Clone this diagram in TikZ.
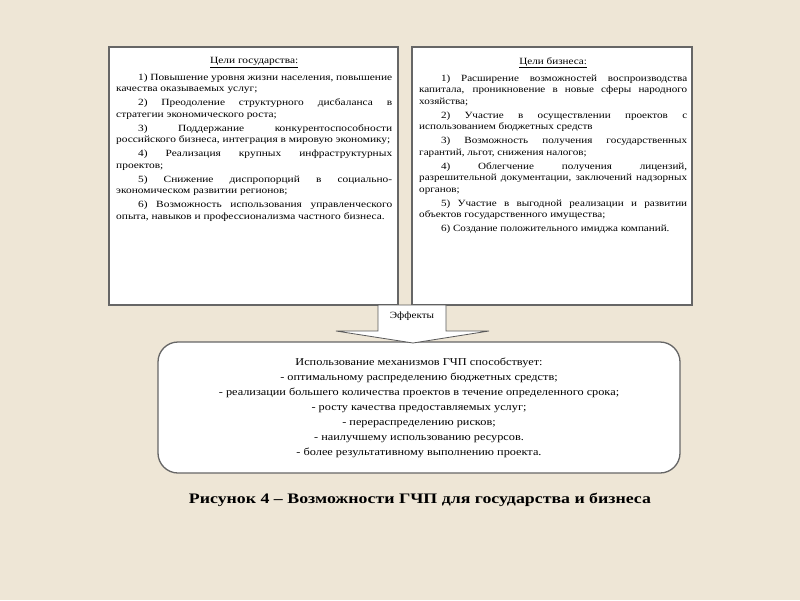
\documentclass[tikz,border=0pt]{standalone}
\usepackage{fontspec}
\setmainfont{Liberation Serif}
\newfontfamily\boxfont[FakeStretch=1.2]{Liberation Serif}
\newfontfamily\boxfontb[FakeStretch=1.17]{Liberation Serif}
\newfontfamily\efffont[FakeStretch=1.17]{Liberation Serif}
\newfontfamily\capfont[FakeStretch=1.23]{Liberation Serif}
\begin{document}
\begin{tikzpicture}[x=1pt,y=-1pt,
  goalbox/.style={draw=gray!80!black, line width=1.6pt, fill=white},
  goaltext/.style={anchor=north west, inner sep=0pt, text width=#1, align=justify,
    font=\boxfont\fontsize{9.5}{11.5}\selectfont},
  efftext/.style={align=center, font=\efffont\fontsize{10.5}{15}\selectfont},
  arrowshape/.style={draw=gray!70!black, line width=0.8pt, fill=white}]
\definecolor{bg}{RGB}{238,230,214}
\fill[bg] (0,0) rectangle (800,600);
\useasboundingbox (0,0) rectangle (800,600);
% goal boxes
\draw[goalbox] (109,47) rectangle (398,305);
\draw[goalbox] (412,47) rectangle (692,305);
\node[goaltext=276pt] (gov) at (116,57) {%
  \setlength{\parskip}{2.5pt}%
  \centerline{\underline{Цели государства:}}\par\vspace{3pt}
  \hspace*{2.3em}1) Повышение уровня жизни населения, повышение качества оказываемых услуг;\par
  \hspace*{2.3em}2) Преодоление структурного дисбаланса в стратегии экономического роста;\par
  \hspace*{2.3em}3) Поддержание конкурентоспособности российского бизнеса, интеграция в мировую экономику;\par
  \hspace*{2.3em}4) Реализация крупных инфраструктурных проектов;\par
  \hspace*{2.3em}5) Снижение диспропорций в социально-экономическом развитии регионов;\par
  \hspace*{2.3em}6) Возможность использования управленческого опыта, навыков и профессионализма частного бизнеса.};
\node[goaltext=268pt, font=\boxfontb\fontsize{9.5}{11.5}\selectfont] (bus) at (419,57) {%
  \setlength{\parskip}{2.5pt}%
  \centerline{\underline{Цели бизнеса:}}\par\vspace{3pt}
  \hspace*{2.3em}1) Расширение возможностей воспроизводства капитала, проникновение в новые сферы народного хозяйства;\par
  \hspace*{2.3em}2) Участие в осуществлении проектов с использованием бюджетных средств\par
  \hspace*{2.3em}3) Возможность получения государственных гарантий, льгот, снижения налогов;\par
  \hspace*{2.3em}4) Облегчение получения лицензий, разрешительной документации, заключений надзорных органов;\par
  \hspace*{2.3em}5) Участие в выгодной реализации и развитии объектов государственного имущества;\par
  \hspace*{2.3em}6) Создание положительного имиджа компаний.};
% effects box
\draw[goalbox, line width=1.3pt, rounded corners=20pt] (158,342) rectangle (680,473);
\node[efftext] (eff) at (419,407.5) {Использование механизмов ГЧП способствует:\\
- оптимальному распределению бюджетных средств;\\
- реализации большего количества проектов в течение определенного срока;\\
- росту качества предоставляемых услуг;\\
- перераспределению рисков;\\
- наилучшему использованию ресурсов.\\
- более результативному выполнению проекта.};
% arrow
\draw[arrowshape] (378,305) -- (446,305) -- (446,331) -- (489,331) -- (413,343) -- (336,331) -- (378,331) -- cycle;
\node[font=\efffont\fontsize{9.5}{11}\selectfont] (efl) at (412,316) {Эффекты};
% caption
\node[font=\capfont\bfseries\fontsize{14.5}{17}\selectfont] (cap) at (420,500) {Рисунок 4 – Возможности ГЧП для государства и бизнеса};
\end{tikzpicture}
\end{document}
